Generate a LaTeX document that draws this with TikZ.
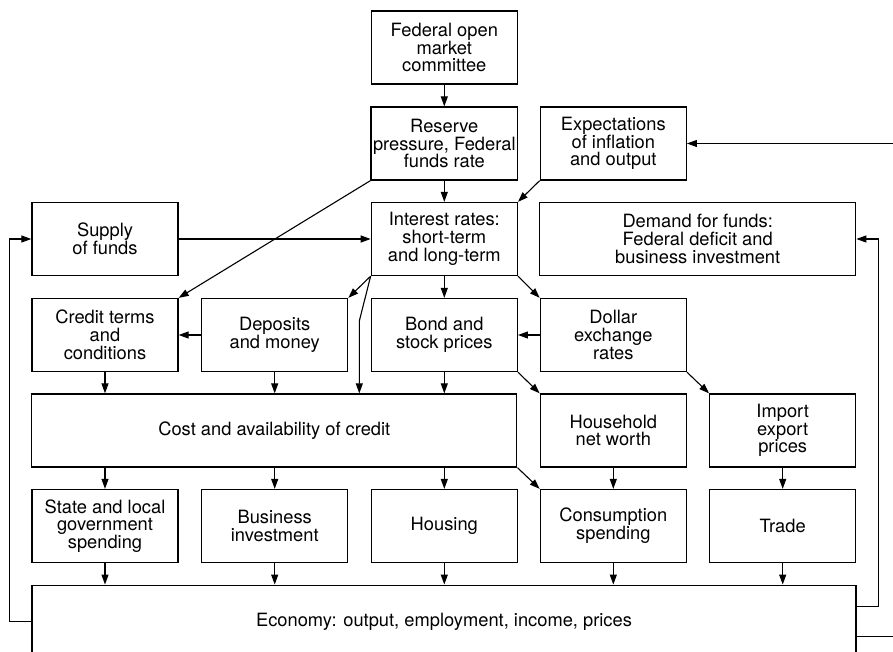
\documentclass[tikz,border=0pt]{standalone}
\usepackage{fontspec}
\setmainfont{TeX Gyre Heros}
\usetikzlibrary{arrows.meta}

\begin{document}
\begin{tikzpicture}[x=1pt,y=-1pt]
  \tikzset{box/.style = {shape=rectangle,draw,line width=1.3pt,minimum width=146pt,minimum height=73pt,inner sep=2pt,align=center,font=\fontsize{18.3}{17.8}\selectfont}}
  \tikzset{link/.style = {-{Triangle[length=10pt,width=7pt]},line width=1.1pt}}

  \useasboundingbox (0,0) rectangle (893,652);
  \clip (0,0) rectangle (893,652);

	\node[box] (fomc) at (444.3,47.5) {Federal open\\market\\committee};
	\node[box] (res) at (444.3,143.5) {Reserve\\pressure, Federal\\funds rate};
	\node[box] (expt) at (613.3,143.5) {Expectations\\of inflation\\and output};
	\node[box] (sup) at (105,239) {Supply\\of funds};
	\node[box] (ir) at (444.3,239) {Interest rates:\\short-term\\and long-term};
	\node[box,minimum width=316pt] (dem) at (697.7,239) {Demand for funds:\\Federal deficit and\\business investment};
	\node[box] (cred) at (105,335) {Credit terms\\and\\conditions};
	\node[box] (dep) at (274.7,335) {Deposits\\and money};
	\node[box] (bond) at (444.3,335) {Bond and\\stock prices};
	\node[box] (dol) at (613.3,335) {Dollar\\exchange\\rates};
	\node[box,minimum width=485pt] (cost) at (274.3,430.5) {Cost and availability of credit};
	\node[box] (hh) at (613.3,430.5) {Household\\net worth};
	\node[box] (imp) at (782.7,430.5) {Import\\export\\prices};
	\node[box] (state) at (105,526) {State and local\\government\\spending};
	\node[box] (bus) at (274.7,526) {Business\\investment};
	\node[box] (hous) at (444.3,526) {Housing};
	\node[box] (cons) at (613.3,526) {Consumption\\spending};
	\node[box] (trade) at (782.7,526) {Trade};
	\node[box,minimum width=824pt] (econ) at (444,621.7) {Economy: output, employment, income, prices};
	\coordinate (bend) at (359.3,321);

	% straight links
	\foreach \from/\to in {fomc/res, res/ir, ir/bond, sup/ir, dep/cred, dol/bond, hh/cons, imp/trade}
    \draw[link] (\from) -- (\to);
	\foreach \from/\to in {cred/cost, dep/cost, bond/cost, state/econ, bus/econ, hous/econ, cons/econ, trade/econ}
    \draw[link] (\from.south) -- (\from.south |- \to.north);
	\foreach \from/\to in {cost/state, cost/bus, cost/hous}
    \draw[link] (\to.north |- \from.south) -- (\to.north);

	% corner links
	\foreach \from/\to in {res/cred, expt/ir, ir/dep}
    \draw[link] (\from.south west) -- (\to.north east);
	\foreach \from/\to in {ir/dol, bond/hh, dol/imp, cost/cons}
    \draw[link] (\from.south east) -- (\to.north west);
	\draw[link] (ir.south west) -- (bend) -- (bend |- cost.north);

	% feedback
	\draw[link] (econ.west) -- ++(-22,0) |- (sup.west);
	\draw[link] ([yshift=15pt]econ.east) -- ++(22,0) |- (dem.east);
	\draw[link] ([yshift=-15pt]econ.east) -- ++(60,0) |- (expt.east);
\end{tikzpicture}
\end{document}
